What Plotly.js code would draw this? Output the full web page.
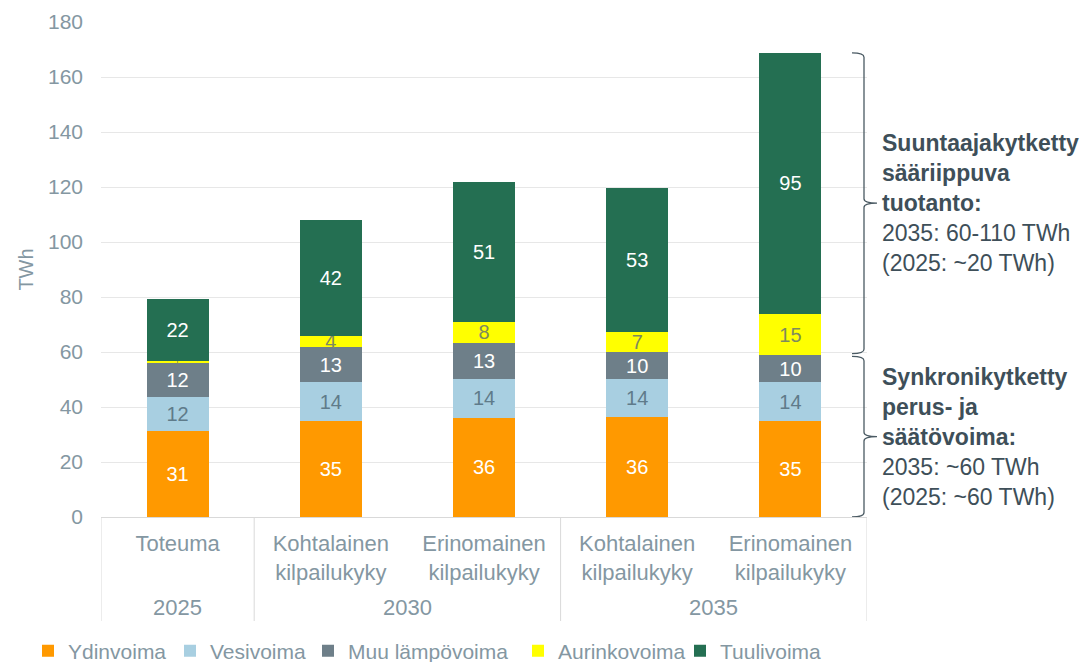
<!DOCTYPE html>
<html>
<head>
<meta charset="utf-8">
<script src="https://cdn.plot.ly/plotly-3.0.1.min.js"></script>
<style>html,body{margin:0;padding:0;background:#fff;}#chart{width:1085px;height:662px;}</style>
</head>
<body>
<div id="chart"></div>
<script>
// ---- data ----
const years = ['2025', '2030', '2030', '2035', '2035'];
const scenarios = ['Toteuma', 'Kohtalainen<br>kilpailukyky', 'Erinomainen<br>kilpailukyky', 'Kohtalainen<br>kilpailukyky', 'Erinomainen<br>kilpailukyky'];
const ydinvoima = [31.4, 35.0, 36.1, 36.2, 35.0];
const vesivoima = [12.3, 14.0, 14.1, 14.0, 14.0];
const muuLampovoima = [12.4, 12.9, 13.0, 9.7, 9.9];
const aurinkovoima = [0.8, 4.0, 7.8, 7.3, 14.9];
const tuulivoima = [22.3, 42.1, 50.7, 52.6, 95.0];
const seriesNames = ['Ydinvoima', 'Vesivoima', 'Muu lämpövoima', 'Aurinkovoima', 'Tuulivoima'];
const yTicks = [0, 20, 40, 60, 80, 100, 120, 140, 160, 180];
const upperText = '<b>Suuntaajakytketty<br>sääriippuva<br>tuotanto:</b><br>2035: 60-110 TWh<br>(2025: ~20 TWh)';
const lowerText = '<b>Synkronikytketty<br>perus- ja<br>säätövoima:</b><br>2035: ~60 TWh<br>(2025: ~60 TWh)';

// ---- styles ----
const colors = ['#FF9900', '#A8CFE1', '#6E7F89', '#FFFF00', '#246F52'];
const textColors = ['#ffffff', '#5F7B8A', '#ffffff', '#7E8A5E', '#ffffff'];
const legendTextX = [66, 208, 346, 556, 718];   // pixel x where each legend label starts
const axisGrey = '#8497A2';
const lineGrey = '#D9D9D9';
const FONT = 'Liberation Sans, Arial, sans-serif';
const W = 1085, H = 662;
const M = {l: 101, r: 218, t: 22, b: 145};
const plotW = W - M.l - M.r, plotH = H - M.t - M.b;
const px2paper = px => (px - M.l) / plotW;
const py2paper = py => (H - M.b - py) / plotH;

// unique category keys (year + scenario)
const cats = years.map((y, i) => y + ' ' + scenarios[i]);
const legendIds = seriesNames.map((_, i) => i === 0 ? 'legend' : 'legend' + (i + 1));

const values = [ydinvoima, vesivoima, muuLampovoima, aurinkovoima, tuulivoima];
const traces = values.map((v, i) => ({
  type: 'bar',
  name: seriesNames[i],
  legend: legendIds[i],
  x: cats,
  y: v,
  marker: {color: colors[i]},
  texttemplate: '%{y:.0f}',
  textposition: 'inside',
  insidetextanchor: 'middle',
  constraintext: 'none',
  textangle: 0,
  textfont: {family: FONT, color: textColors[i],
             size: i === 3 ? v.map(d => d < 2 ? 8 : 20) : 20},
  hoverinfo: 'skip'
}));

// year groups -> centre index and boundaries
const groups = [];
years.forEach((y, i) => {
  const g = groups.find(g => g.year === y);
  if (g) g.end = i; else groups.push({year: y, start: i, end: i});
});
const dividerIdx = [-0.5].concat(groups.map(g => g.end + 0.5));

// brace helper (x in pixels, y in data units)
const last = years.length - 1;
const baseTop = ydinvoima[last] + vesivoima[last] + muuLampovoima[last];
const total = baseTop + aurinkovoima[last] + tuulivoima[last];
function brace(yTop, yBot) {
  const x0 = px2paper(852), x1 = px2paper(864), x2 = px2paper(877);
  const r = 1.6;
  const yMid = (yTop + yBot) / 2;
  return `M${x0},${yTop} Q${x1},${yTop} ${x1},${yTop - r} L${x1},${yMid + r} Q${x1},${yMid} ${x2},${yMid} Q${x1},${yMid} ${x1},${yMid - r} L${x1},${yBot + r} Q${x1},${yBot} ${x0},${yBot}`;
}
const upTop = total, upBot = baseTop + 0.5;
const loTop = baseTop - 0.5, loBot = 0;

const shapes = [
  {type: 'path', xref: 'paper', yref: 'y', path: brace(upTop, upBot), line: {color: '#4A5A63', width: 1.3}},
  {type: 'path', xref: 'paper', yref: 'y', path: brace(loTop, loBot), line: {color: '#4A5A63', width: 1.3}}
].concat(dividerIdx.map(d => ({
  type: 'line', xref: 'x', yref: 'paper', x0: d, x1: d, y0: 0, y1: py2paper(621),
  line: {color: lineGrey, width: 1}
})));

const annotations = [
  {xref: 'paper', yref: 'y', x: px2paper(880), y: (upTop + upBot) / 2, xanchor: 'left', yanchor: 'middle',
   align: 'left', showarrow: false, text: upperText,
   font: {family: FONT, size: 23, color: '#3E4F59'}},
  {xref: 'paper', yref: 'y', x: px2paper(880), y: (loTop + loBot) / 2, xanchor: 'left', yanchor: 'middle',
   align: 'left', showarrow: false, text: lowerText,
   font: {family: FONT, size: 23, color: '#3E4F59'}}
].concat(groups.map(g => ({
  xref: 'x', yref: 'paper', x: (g.start + g.end) / 2, y: py2paper(607), xanchor: 'center', yanchor: 'middle',
  showarrow: false, text: g.year, font: {family: FONT, size: 22, color: axisGrey}
})));

const layout = {
  width: W, height: H,
  margin: M,
  paper_bgcolor: '#ffffff',
  plot_bgcolor: '#ffffff',
  barmode: 'stack',
  bargap: 0.595,
  showlegend: true,
  font: {family: FONT},
  xaxis: {
    type: 'category',
    range: [-0.5, cats.length - 0.5],
    tickvals: cats,
    ticktext: scenarios,
    tickfont: {family: FONT, size: 22, color: axisGrey},
    ticklabelstandoff: 7,
    showline: true, linecolor: lineGrey, linewidth: 1,
    ticks: '', showgrid: false, zeroline: false, automargin: false
  },
  yaxis: {
    range: [0, 180],
    tickvals: yTicks,
    ticktext: yTicks.map(String),
    tickfont: {family: FONT, size: 21, color: axisGrey},
    ticklabelstandoff: 17,
    showgrid: true, gridcolor: '#E7E7E7', gridwidth: 1,
    zeroline: false, showline: false, ticks: '', automargin: false,
    title: {text: 'TWh', font: {family: FONT, size: 20, color: axisGrey}, standoff: 8}
  },
  shapes: shapes,
  annotations: annotations
};
legendIds.forEach((id, i) => {
  layout[id] = {
    orientation: 'h', xref: 'container', yref: 'container',
    x: (legendTextX[i] - 38) / W, xanchor: 'left', y: 1 - 651 / H, yanchor: 'middle',
    font: {family: FONT, size: 21, color: axisGrey},
    bgcolor: 'rgba(0,0,0,0)', borderwidth: 0
  };
});

Plotly.newPlot('chart', traces, layout, {displayModeBar: false, staticPlot: true});
</script>
</body>
</html>
